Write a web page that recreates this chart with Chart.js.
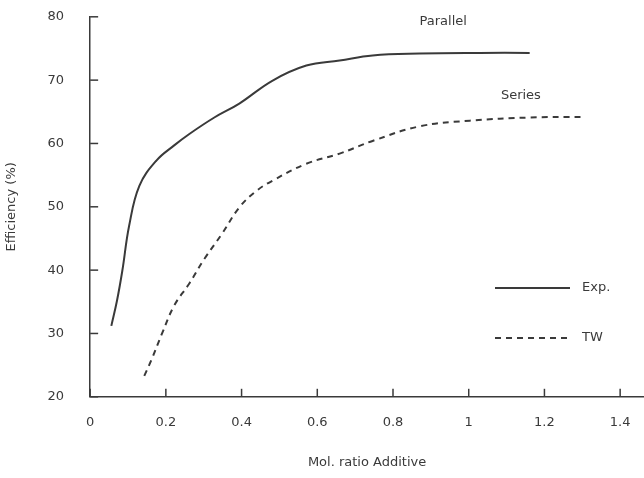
<!DOCTYPE html>
<html>
<head>
<meta charset="utf-8">
<script src="https://cdn.jsdelivr.net/npm/chart.js@4"></script>
<style>
  html, body { margin: 0; padding: 0; background: #fff; overflow: hidden; }
  #wrap { width: 644px; height: 487px; margin-top: -9px; }
</style>
</head>
<body>
<div id="wrap"><canvas id="ratioChart"></canvas></div>
<script>
// values
const expX = [0.056, 0.071, 0.085, 0.103, 0.130, 0.175, 0.222, 0.262, 0.328, 0.394, 0.481, 0.571, 0.659, 0.746, 0.870, 1.029, 1.161];
const expY = [31.2, 35.2, 39.9, 47.0, 53.3, 57.3, 59.7, 61.5, 64.1, 66.3, 69.9, 72.3, 73.1, 73.9, 74.2, 74.3, 74.3];
const twX = [0.143, 0.161, 0.190, 0.222, 0.262, 0.302, 0.349, 0.394, 0.439, 0.481, 0.571, 0.659, 0.746, 0.870, 1.003, 1.161, 1.307];
const twY = [23.3, 25.7, 30.0, 34.4, 37.9, 41.8, 45.8, 49.9, 52.5, 54.1, 56.8, 58.4, 60.4, 62.7, 63.6, 64.1, 64.2];
const seriesNames = ['Exp.', 'TW'];
const curveLabels = ['Parallel', 'Series'];
const xTicks = [0, 0.2, 0.4, 0.6, 0.8, 1, 1.2, 1.4];
const yTicks = [20, 30, 40, 50, 60, 70, 80];

const ink = '#3a3a3a';
const toPts = (xs, ys) => xs.map((x, i) => ({ x: x, y: ys[i] }));

// inward tick marks, curve labels and the legend drawn on the canvas
const extras = {
    id: 'extras',
    afterDraw(chart) {
        const c = chart.ctx, xs = chart.scales.x, ys = chart.scales.y;
        c.save();
        c.strokeStyle = ink;
        c.lineWidth = 1.5;
        yTicks.forEach(v => {
            const p = ys.getPixelForValue(v);
            c.beginPath(); c.moveTo(xs.left, p); c.lineTo(xs.left + 8, p); c.stroke();
        });
        xTicks.forEach(v => {
            const p = xs.getPixelForValue(v);
            c.beginPath(); c.moveTo(p, ys.bottom); c.lineTo(p, ys.bottom - 8); c.stroke();
        });

        c.fillStyle = ink;
        c.font = '13px "DejaVu Sans"';
        c.textBaseline = 'middle';
        c.textAlign = 'left';
        c.fillText(curveLabels[0], xs.getPixelForValue(0.87), ys.getPixelForValue(79.3));
        c.fillText(curveLabels[1], xs.getPixelForValue(1.085), ys.getPixelForValue(67.6));

        // legend (canvas is shifted up 9px in the window)
        const lx = 495, lw = 75;
        [[297, []], [347, [6, 5]]].forEach((row, i) => {
            c.setLineDash(row[1]);
            c.lineWidth = 2;
            c.beginPath(); c.moveTo(lx, row[0]); c.lineTo(lx + lw, row[0]); c.stroke();
            c.setLineDash([]);
            c.fillText(seriesNames[i], lx + lw + 12, row[0]);
        });
        c.restore();
    }
};

new Chart(document.getElementById('ratioChart'), {
    type: 'scatter',
    data: {
        datasets: [
            {
                label: seriesNames[0],
                data: toPts(expX, expY),
                showLine: true,
                borderColor: ink,
                borderWidth: 2,
                pointRadius: 0,
                tension: 0.4
            },
            {
                label: seriesNames[1],
                data: toPts(twX, twY),
                showLine: true,
                borderColor: ink,
                borderWidth: 2,
                borderDash: [6, 5],
                pointRadius: 0,
                tension: 0.4
            }
        ]
    },
    options: {
        responsive: true,
        maintainAspectRatio: false,
        animation: false,
        layout: { padding: { top: 0, right: 0, left: 0, bottom: 4 } },
        plugins: {
            legend: { display: false },
            tooltip: { enabled: false }
        },
        scales: {
            x: {
                type: 'linear',
                min: 0,
                max: 1.463,
                afterBuildTicks: axis => { axis.ticks = xTicks.map(v => ({ value: v })); },
                ticks: {
                    color: ink,
                    font: { family: 'DejaVu Sans', size: 13 },
                    padding: 10,
                    callback: v => String(v)
                },
                grid: { display: false },
                border: { color: ink, width: 1.5 },
                title: {
                    display: true,
                    text: 'Mol. ratio Additive',
                    color: ink,
                    font: { family: 'DejaVu Sans', size: 13 },
                    padding: { top: 14 }
                }
            },
            y: {
                min: 20,
                max: 80,
                afterBuildTicks: axis => { axis.ticks = yTicks.map(v => ({ value: v })); },
                ticks: {
                    color: ink,
                    font: { family: 'DejaVu Sans', size: 13 },
                    padding: 18
                },
                grid: { display: false },
                border: { color: ink, width: 1.5 },
                title: {
                    display: true,
                    text: 'Efficiency (%)',
                    color: ink,
                    font: { family: 'DejaVu Sans', size: 13 },
                    padding: { bottom: 10 }
                }
            }
        }
    },
    plugins: [extras]
});
</script>
</body>
</html>
